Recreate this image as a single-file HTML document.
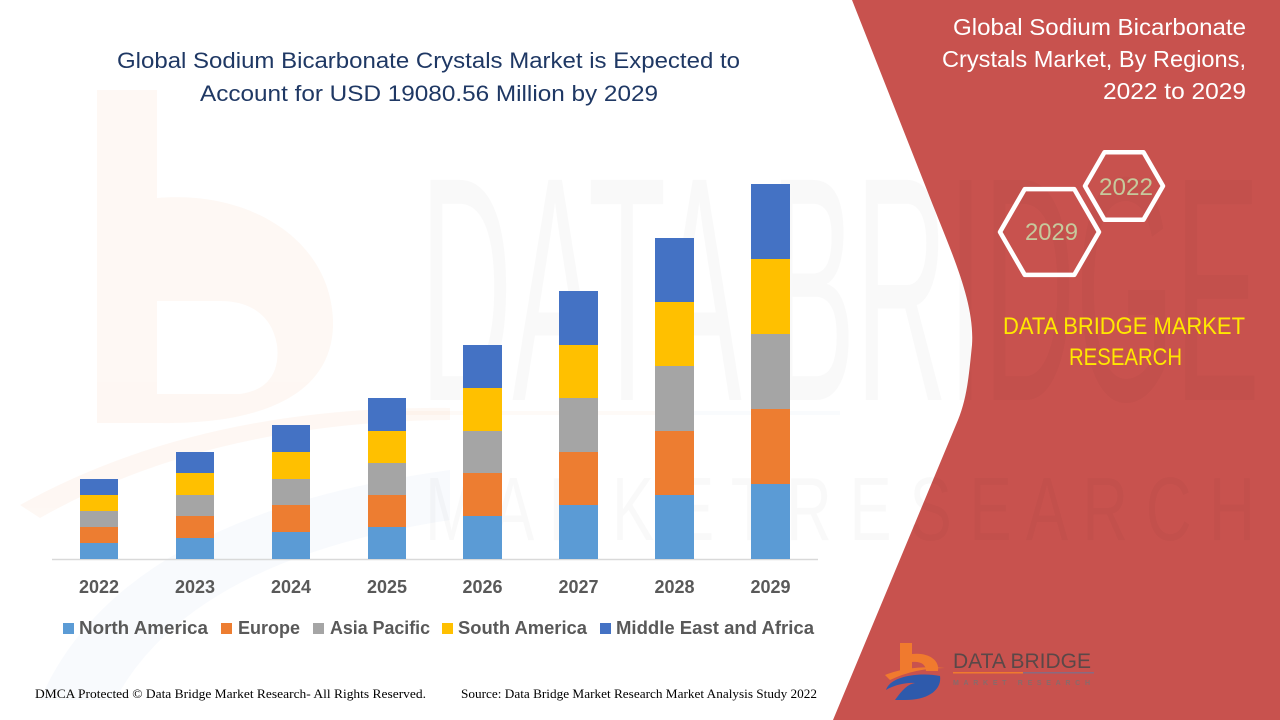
<!DOCTYPE html>
<html>
<head>
<meta charset="utf-8">
<style>
html,body{margin:0;padding:0;background:#fff;}
svg{display:block;}
</style>
</head>
<body>
<svg width="1280" height="720" viewBox="0 0 1280 720" xmlns="http://www.w3.org/2000/svg">
  <rect x="0" y="0" width="1280" height="720" fill="#ffffff"/>

  <!-- faint left watermark logo -->
  <g opacity="0.05">
    <path d="M97,90 L157,90 L157,198 C250,190 330,240 333,320 C335,390 270,425 157,423 L97,423 Z M157,301 L157,394 L240,394 C270,390 280,370 277,345 C272,315 250,301 220,301 Z" fill="#ED7D31" fill-rule="evenodd"/>
    <path d="M20,505 Q200,405 450,408 L450,420 Q210,422 40,518 Z" fill="#ED7D31"/>
  </g>
  <path d="M40,700 Q120,515 450,470 L450,520 Q190,560 115,700 Z" fill="#4472C4" opacity="0.035"/>

  <!-- red right panel -->
  <path d="M852,0 L925,185 C950,250 975,300 972,345 C969,375 967,398 958,420 L833,720 L1280,720 L1280,0 Z" fill="#C8524E"/>

  <!-- faint DATA BRIDGE watermark -->
  <text x="420" y="400" font-family="Liberation Sans, sans-serif" font-size="320" textLength="840" lengthAdjust="spacingAndGlyphs" fill="#000" opacity="0.018">DATA BRIDGE</text>
  <text x="425" y="540" font-family="Liberation Sans, sans-serif" font-size="90" textLength="830" lengthAdjust="spacingAndGlyphs" fill="#000" opacity="0.018">M A R K E T   R E S E A R C H</text>
  <rect x="405" y="411" width="255" height="4" fill="#ED7D31" opacity="0.04"/>
  <rect x="660" y="411" width="180" height="4" fill="#4472C4" opacity="0.03"/>

  <!-- main title -->
  <g font-family="Liberation Sans, sans-serif" font-size="22" fill="#1F3864">
    <text x="117" y="68" textLength="623" lengthAdjust="spacingAndGlyphs">Global Sodium Bicarbonate Crystals Market is Expected to</text>
    <text x="200" y="101" textLength="458" lengthAdjust="spacingAndGlyphs">Account for USD 19080.56 Million by 2029</text>
  </g>

  <!-- axis -->
  <line x1="52" y1="559.5" x2="818" y2="559.5" stroke="#D9D9D9" stroke-width="1.5"/>

  <!-- bars -->
  <g>
    <rect x="80" y="543" width="38" height="16" fill="#5B9BD5"/>
    <rect x="80" y="527" width="38" height="16" fill="#ED7D31"/>
    <rect x="80" y="511" width="38" height="16" fill="#A5A5A5"/>
    <rect x="80" y="495" width="38" height="16" fill="#FFC000"/>
    <rect x="80" y="479" width="38" height="16" fill="#4472C4"/>

    <rect x="176" y="538" width="38" height="21" fill="#5B9BD5"/>
    <rect x="176" y="516" width="38" height="22" fill="#ED7D31"/>
    <rect x="176" y="495" width="38" height="21" fill="#A5A5A5"/>
    <rect x="176" y="473" width="38" height="22" fill="#FFC000"/>
    <rect x="176" y="452" width="38" height="21" fill="#4472C4"/>

    <rect x="272" y="532" width="38" height="27" fill="#5B9BD5"/>
    <rect x="272" y="505" width="38" height="27" fill="#ED7D31"/>
    <rect x="272" y="479" width="38" height="26" fill="#A5A5A5"/>
    <rect x="272" y="452" width="38" height="27" fill="#FFC000"/>
    <rect x="272" y="425" width="38" height="27" fill="#4472C4"/>

    <rect x="368" y="527" width="38" height="32" fill="#5B9BD5"/>
    <rect x="368" y="495" width="38" height="32" fill="#ED7D31"/>
    <rect x="368" y="463" width="38" height="32" fill="#A5A5A5"/>
    <rect x="368" y="431" width="38" height="32" fill="#FFC000"/>
    <rect x="368" y="398" width="38" height="33" fill="#4472C4"/>

    <rect x="463" y="516" width="39" height="43" fill="#5B9BD5"/>
    <rect x="463" y="473" width="39" height="43" fill="#ED7D31"/>
    <rect x="463" y="431" width="39" height="42" fill="#A5A5A5"/>
    <rect x="463" y="388" width="39" height="43" fill="#FFC000"/>
    <rect x="463" y="345" width="39" height="43" fill="#4472C4"/>

    <rect x="559" y="505" width="39" height="54" fill="#5B9BD5"/>
    <rect x="559" y="452" width="39" height="53" fill="#ED7D31"/>
    <rect x="559" y="398" width="39" height="54" fill="#A5A5A5"/>
    <rect x="559" y="345" width="39" height="53" fill="#FFC000"/>
    <rect x="559" y="291" width="39" height="54" fill="#4472C4"/>

    <rect x="655" y="495" width="39" height="64" fill="#5B9BD5"/>
    <rect x="655" y="431" width="39" height="64" fill="#ED7D31"/>
    <rect x="655" y="366" width="39" height="65" fill="#A5A5A5"/>
    <rect x="655" y="302" width="39" height="64" fill="#FFC000"/>
    <rect x="655" y="238" width="39" height="64" fill="#4472C4"/>

    <rect x="751" y="484" width="39" height="75" fill="#5B9BD5"/>
    <rect x="751" y="409" width="39" height="75" fill="#ED7D31"/>
    <rect x="751" y="334" width="39" height="75" fill="#A5A5A5"/>
    <rect x="751" y="259" width="39" height="75" fill="#FFC000"/>
    <rect x="751" y="184" width="39" height="75" fill="#4472C4"/>
  </g>

  <!-- year labels -->
  <g font-family="Liberation Sans, sans-serif" font-size="18" font-weight="bold" fill="#595959" text-anchor="middle">
    <text x="99" y="593">2022</text>
    <text x="195" y="593">2023</text>
    <text x="291" y="593">2024</text>
    <text x="387" y="593">2025</text>
    <text x="482.5" y="593">2026</text>
    <text x="578.5" y="593">2027</text>
    <text x="674.5" y="593">2028</text>
    <text x="770.5" y="593">2029</text>
  </g>

  <!-- legend -->
  <g font-family="Liberation Sans, sans-serif" font-size="18" font-weight="bold" fill="#595959">
    <rect x="63" y="623" width="11" height="11" fill="#5B9BD5"/>
    <text x="79" y="634" textLength="129" lengthAdjust="spacingAndGlyphs">North America</text>
    <rect x="221" y="623" width="11" height="11" fill="#ED7D31"/>
    <text x="238" y="634" textLength="62" lengthAdjust="spacingAndGlyphs">Europe</text>
    <rect x="313" y="623" width="11" height="11" fill="#A5A5A5"/>
    <text x="330" y="634" textLength="100" lengthAdjust="spacingAndGlyphs">Asia Pacific</text>
    <rect x="442" y="623" width="11" height="11" fill="#FFC000"/>
    <text x="458" y="634" textLength="129" lengthAdjust="spacingAndGlyphs">South America</text>
    <rect x="600" y="623" width="11" height="11" fill="#4472C4"/>
    <text x="616" y="634" textLength="198" lengthAdjust="spacingAndGlyphs">Middle East and Africa</text>
  </g>

  <!-- footer -->
  <g font-family="Liberation Serif, serif" font-size="13" fill="#000">
    <text x="35" y="698" textLength="391" lengthAdjust="spacingAndGlyphs">DMCA Protected © Data Bridge Market Research- All Rights Reserved.</text>
    <text x="461" y="698" textLength="356" lengthAdjust="spacingAndGlyphs">Source: Data Bridge Market Research Market Analysis Study 2022</text>
  </g>

  <!-- right title -->
  <g font-family="Liberation Sans, sans-serif" font-size="23" fill="#ffffff">
    <text x="953" y="35" textLength="293" lengthAdjust="spacingAndGlyphs">Global Sodium Bicarbonate</text>
    <text x="942" y="67" textLength="304" lengthAdjust="spacingAndGlyphs">Crystals Market, By Regions,</text>
    <text x="1103" y="99" textLength="143" lengthAdjust="spacingAndGlyphs">2022 to 2029</text>
  </g>

  <!-- hexagons -->
  <g fill="none" stroke="#ffffff" stroke-width="4.5" stroke-linejoin="round">
    <polygon points="1163,186 1143.5,219.8 1104.5,219.8 1085,186 1104.5,152.2 1143.5,152.2"/>
    <polygon points="1099,232 1074.25,274.9 1024.75,274.9 1000,232 1024.75,189.1 1074.25,189.1"/>
  </g>
  <g font-family="Liberation Sans, sans-serif" font-size="24" fill="#C6C99C">
    <text x="1099" y="195" textLength="54" lengthAdjust="spacingAndGlyphs">2022</text>
    <text x="1025" y="240" textLength="53" lengthAdjust="spacingAndGlyphs">2029</text>
  </g>

  <!-- DATA BRIDGE MARKET RESEARCH -->
  <g font-family="Liberation Sans, sans-serif" font-size="24" fill="#FFE800">
    <text x="1003" y="334" textLength="242" lengthAdjust="spacingAndGlyphs">DATA BRIDGE MARKET</text>
    <text x="1069" y="365" textLength="113" lengthAdjust="spacingAndGlyphs">RESEARCH</text>
  </g>

  <!-- bottom logo -->
  <g>
    <path d="M900,643 L912,643 L912,654 C928,652 940,660 938,671 L926,671 C926,664 920,661 912,662 L912,672 L900,672 Z" fill="#F07A2E"/>
    <path d="M885,675 Q910,665 945,668 Q915,668 890,680 Z" fill="#F07A2E"/>
    <path d="M886,690 C890,676 920,672 940,676 C942,690 928,700 905,700 L895,700 C902,690 908,684 915,683 C905,682 892,686 886,690 Z" fill="#2E5AAC"/>
    <text x="953" y="668" font-family="Liberation Sans, sans-serif" font-size="21" fill="#5a4848" textLength="138" lengthAdjust="spacingAndGlyphs">DATA BRIDGE</text>
    <rect x="953" y="672" width="70" height="1.5" fill="#F07A2E"/>
    <rect x="1023" y="672" width="71" height="1.5" fill="#8a6a80"/>
    <text x="953" y="685" font-family="Liberation Sans, sans-serif" font-size="7" font-weight="bold" fill="#8a6a6a" textLength="137" lengthAdjust="spacing">MARKET   RESEARCH</text>
  </g>
</svg>
</body>
</html>
